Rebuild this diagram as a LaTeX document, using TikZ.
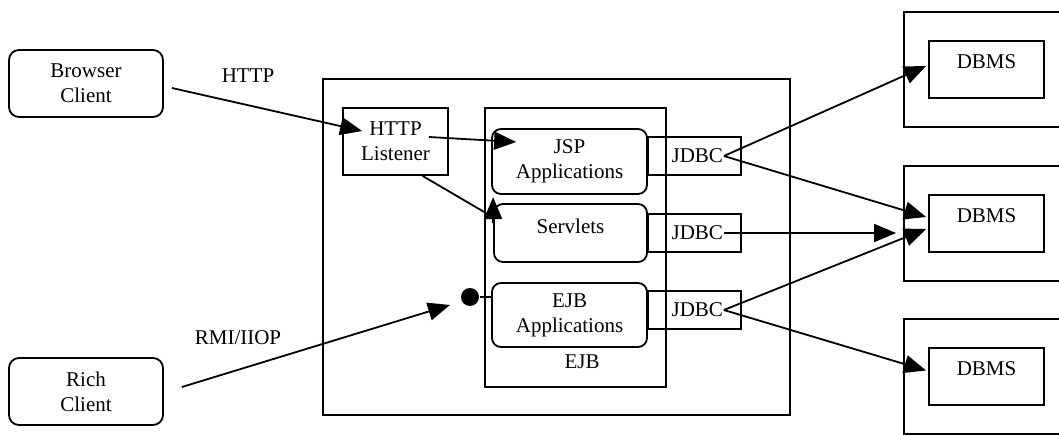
\documentclass[tikz,border=0pt]{standalone}
\usepackage{fontspec}
\setmainfont{Liberation Serif}
\usetikzlibrary{arrows.meta}

\begin{document}
\begin{tikzpicture}[x=1pt, y=-1pt, line width=1.8pt,
  every node/.style = {font=\fontsize{21}{25}\selectfont, align=center},
  client/.style = {shape=rectangle, rounded corners=10pt, draw,
    minimum width=154pt, minimum height=67pt},
  plainbox/.style = {shape=rectangle, draw},
  appbox/.style = {shape=rectangle, rounded corners=9pt, draw,
    minimum width=155pt},
  jdbcbox/.style = {shape=rectangle, draw, minimum width=93pt,
    minimum height=38pt, text width=57pt, align=right},
  dbbox/.style = {shape=rectangle, draw, minimum width=115pt,
    minimum height=57pt, text height=14pt, text depth=16pt},
  conn/.style = {-{Triangle[length=22pt, width=18pt]}}]
  \clip (0,0) rectangle (1059,435);
  % clients
  \node[client] (bc) at (86,83.5) {Browser\\Client};
  \node[client] (rc) at (86,391.5) {Rich\\Client};
  \node (http) at (248,76) {HTTP};
  \node (rmi) at (238,338) {RMI/IIOP};
  % application server
  \node[plainbox, minimum width=467pt, minimum height=336pt] (srv) at (556.5,247) {};
  \node[plainbox, minimum width=105pt, minimum height=67pt] (lis) at (395.5,141.5) {HTTP\\Listener};
  \node[plainbox, minimum width=181pt, minimum height=279pt] (ejbc) at (575.5,247.5) {};
  \node (ejbl) at (582,362) {EJB};
  \node[appbox, minimum height=65pt] (jsp) at (569.5,161.5) {JSP\\Applications};
  \node[appbox, minimum width=153pt, minimum height=58pt,
    text height=14pt, text depth=12pt] (sv) at (570.5,233) {Servlets};
  \node[appbox, minimum height=64pt] (ejb) at (569.5,315) {EJB\\Applications};
  \node[jdbcbox] (j1) at (694.5,156) {JDBC};
  \node[jdbcbox] (j2) at (694.5,233) {JDBC};
  \node[jdbcbox] (j3) at (694.5,310) {JDBC};
  \node[circle, fill, inner sep=0pt, minimum size=18pt] (dot) at (470,297) {};
  % databases
  \foreach \n/\y in {1/69.5, 2/223.5, 3/376.5} {
    \node[plainbox, minimum width=176pt, minimum height=115pt] (dbs\n) at (992,\y) {};
    \node[dbbox] (db\n) at (986.5,\y) {DBMS};
  }
  % connectors
  \draw[conn] ([xshift=8pt,yshift=-4.5pt]bc.east) -- ([xshift=20pt,yshift=10.5pt]lis.west);
  \draw[conn] ([xshift=-20pt,yshift=4.5pt]lis.east) -- ([xshift=25pt,yshift=19.5pt]jsp.west);
  \draw ([xshift=27pt]lis.south) -- ([xshift=-7pt,yshift=-10pt]sv.north west);
  \draw[conn] ([yshift=-20pt]sv.north west) -- ([yshift=6pt]sv.north west);
  \draw[conn] ([xshift=18pt,yshift=4.5pt]rc.east) -- ([xshift=-20pt,yshift=-8pt]dot.center);
  \draw (dot) -- (dot -| ejb.west);
  \draw[conn] ([xshift=-18pt]j1.east) -- ([xshift=-2pt,yshift=3.5pt]db1.west);
  \draw[conn] ([xshift=-18pt]j1.east) -- ([xshift=-2pt,yshift=6.5pt]db2.west);
  \draw[conn] ([xshift=-18pt]j2.east) -- ([xshift=-7pt]j2 -| dbs2.west);
  \draw[conn] ([xshift=-18pt]j3.east) -- ([xshift=-2pt,yshift=-5.5pt]db2.west);
  \draw[conn] ([xshift=-18pt]j3.east) -- ([xshift=-2pt,yshift=6pt]db3.west);
\end{tikzpicture}
\end{document}
